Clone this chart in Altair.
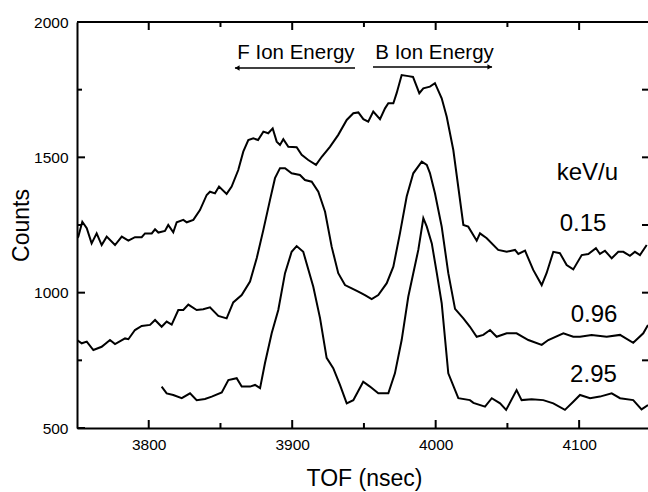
import altair as alt
import pandas as pd

# ---- data ----
tof_015 = [3750.0, 3750.9, 3753.7, 3756.8, 3760.2, 3763.7, 3767.2, 3770.7, 3776.5, 3781.2,
           3785.8, 3790.4, 3795.1, 3797.4, 3802.1, 3804.4, 3806.7, 3811.3, 3813.6, 3817.1,
           3819.5, 3824.1, 3826.5, 3831.1, 3835.7, 3840.4, 3842.7, 3846.2, 3849.0, 3854.3,
           3857.8, 3862.4, 3865.9, 3869.4, 3872.9, 3876.2, 3879.9, 3883.3, 3886.4, 3889.2,
           3891.5, 3893.8, 3897.3, 3903.1, 3906.6, 3911.2, 3916.6, 3920.6, 3926.3, 3932.1,
           3938.0, 3942.6, 3946.1, 3949.6, 3953.0, 3956.5, 3961.2, 3964.7, 3967.0, 3970.5,
           3972.8, 3976.3, 3981.0, 3984.2, 3988.6, 3991.4, 3996.0, 3999.5, 4004.2, 4007.7,
           4012.3, 4019.3, 4022.7, 4028.6, 4030.9, 4035.6, 4043.6, 4049.5, 4055.3, 4057.6,
           4062.3, 4068.0, 4073.9, 4077.3, 4082.0, 4086.6, 4091.3, 4095.9, 4101.8, 4106.4,
           4111.7, 4114.5, 4118.0, 4122.7, 4127.3, 4130.8, 4135.4, 4138.9, 4142.4, 4147.1]
cnt_015 = [1202, 1207, 1262, 1238, 1182, 1219, 1176, 1207, 1176, 1207,
           1192, 1205, 1205, 1219, 1219, 1234, 1222, 1228, 1250, 1223,
           1260, 1269, 1260, 1269, 1305, 1361, 1373, 1367, 1392, 1365,
           1392, 1453, 1521, 1564, 1570, 1564, 1595, 1589, 1607, 1558,
           1546, 1567, 1539, 1537, 1509, 1490, 1472, 1502, 1539, 1583,
           1638, 1663, 1666, 1641, 1632, 1669, 1641, 1681, 1700, 1700,
           1737, 1804, 1800, 1797, 1737, 1755, 1761, 1774, 1718, 1650,
           1527, 1250, 1244, 1192, 1219, 1201, 1158, 1151, 1158, 1143,
           1155, 1084, 1028, 1072, 1151, 1146, 1102, 1086, 1139, 1143,
           1164, 1143, 1155, 1127, 1151, 1151, 1136, 1151, 1139, 1176]

tof_096 = [3750.0, 3753.3, 3756.8, 3761.4, 3767.2, 3773.0, 3776.5, 3783.5, 3785.8, 3790.4,
           3795.1, 3800.9, 3804.4, 3809.0, 3812.5, 3816.0, 3820.6, 3824.1, 3827.6, 3833.4,
           3838.0, 3842.7, 3848.5, 3854.3, 3858.9, 3864.8, 3870.6, 3875.3, 3879.9, 3884.5,
           3888.0, 3891.5, 3895.0, 3899.6, 3905.4, 3908.9, 3913.6, 3918.2, 3922.9, 3927.5,
           3932.1, 3936.8, 3941.5, 3946.1, 3950.7, 3955.4, 3960.0, 3965.9, 3970.5, 3975.1,
           3979.8, 3984.4, 3990.3, 3993.8, 3996.0, 3999.5, 4004.2, 4008.8, 4013.5, 4019.3,
           4023.9, 4028.6, 4033.2, 4037.9, 4042.5, 4049.5, 4056.4, 4064.6, 4073.9, 4078.5,
           4089.0, 4095.9, 4100.6, 4108.7, 4119.2, 4128.5, 4137.7, 4144.7, 4148.0]
cnt_096 = [825, 813, 819, 788, 800, 825, 810, 831, 828, 862,
           877, 881, 899, 874, 893, 882, 936, 936, 956, 936,
           939, 946, 914, 905, 964, 991, 1041, 1128, 1232, 1342,
           1423, 1460, 1460, 1441, 1435, 1416, 1410, 1373, 1299, 1170,
           1072, 1028, 1016, 1004, 991, 976, 991, 1035, 1096, 1219,
           1355, 1441, 1484, 1472, 1442, 1367, 1244, 1072, 940, 905,
           874, 837, 844, 862, 837, 850, 850, 825, 807, 825,
           850, 837, 837, 844, 837, 844, 815, 850, 881]

tof_295 = [3809.0, 3812.5, 3817.1, 3823.0, 3828.8, 3833.4, 3839.2, 3843.9, 3850.9, 3855.5,
           3861.3, 3864.8, 3870.6, 3874.1, 3877.6, 3881.0, 3885.7, 3890.3, 3895.0, 3899.6,
           3903.1, 3907.7, 3914.7, 3919.4, 3924.0, 3928.6, 3933.3, 3938.0, 3942.6, 3949.5,
           3954.2, 3960.0, 3967.0, 3971.6, 3976.3, 3980.9, 3984.4, 3987.9, 3991.4, 3993.8,
           3997.3, 4000.8, 4004.2, 4008.8, 4015.8, 4023.9, 4026.3, 4034.4, 4039.1, 4044.9,
           4049.1, 4056.4, 4059.9, 4066.9, 4075.0, 4082.0, 4090.1, 4095.9, 4100.6, 4107.6,
           4114.5, 4122.7, 4128.5, 4137.7, 4143.5, 4148.0]
cnt_295 = [653, 628, 622, 610, 628, 603, 607, 616, 631, 677,
           684, 653, 653, 659, 647, 739, 850, 936, 1072, 1151,
           1172, 1151, 1022, 906, 759, 721, 659, 591, 603, 671,
           653, 628, 628, 702, 825, 985, 1072, 1158, 1275, 1244,
           1182, 1072, 961, 702, 610, 603, 593, 579, 610, 591,
           567, 640, 603, 606, 603, 591, 567, 597, 622, 610,
           616, 628, 610, 603, 569, 585]

series_labels = ["0.15", "0.96", "2.95"]
label_tof = [4102.7, 4110.4, 4110.0]
label_cnt = [1228, 892, 670]
unit_label = ["keV/u"]
unit_tof = [4105.8]
unit_cnt = [1416]

arrow_texts = ["F Ion Energy", "B Ion Energy"]
arrow_text_tof = [3902.6, 3999.2]
arrow_text_cnt = [1863, 1863]
arrow_tail = [3943.8, 3956.3]
arrow_tip = [3860.1, 4039.3]
arrow_cnt = [1830, 1834]
arrow_head_shape = ["triangle-left", "triangle-right"]

x_range = [3750, 4148]
y_range = [500, 2000]
x_major = [3800, 3900, 4000, 4100]
x_minor = [3850, 3950, 4050]
y_major = [500, 1000, 1500, 2000]
y_minor = [750, 1250, 1750]
y_right = [750, 1000, 1250, 1500, 1750]

FONT = "Liberation Sans"
W, H = 571, 406
XU = (x_range[1] - x_range[0]) / W
YU = (y_range[1] - y_range[0]) / H

# ---- tables ----
rows = []
for name, xs, ys in [("0.15", tof_015, cnt_015), ("0.96", tof_096, cnt_096), ("2.95", tof_295, cnt_295)]:
    for i, (a, b) in enumerate(zip(xs, ys)):
        rows.append({"tof": a, "counts": b, "series": name, "idx": i, "kind": "curve"})

segs = []
lo_x, hi_x = x_range
lo_y, hi_y = y_range
segs.append(((lo_x, hi_y), (hi_x, hi_y)))
for v in x_major:
    segs.append(((v, lo_y), (v, lo_y + 8 * YU)))
    segs.append(((v, hi_y), (v, hi_y - 8 * YU)))
for v in x_minor:
    segs.append(((v, lo_y), (v, lo_y + 5 * YU)))
    segs.append(((v, hi_y), (v, hi_y - 5 * YU)))
for v in y_major:
    segs.append(((lo_x, v), (lo_x + 8 * XU, v)))
for v in y_minor:
    segs.append(((lo_x, v), (lo_x + 5 * XU, v)))
for v in y_right:
    segs.append(((hi_x, v), (hi_x - 6 * XU, v)))
for s, (p, q) in enumerate(segs):
    rows.append({"tof": float(p[0]), "counts": float(p[1]), "series": "f%d" % s, "idx": 0, "kind": "frame"})
    rows.append({"tof": float(q[0]), "counts": float(q[1]), "series": "f%d" % s, "idx": 1, "kind": "frame"})
df = pd.DataFrame(rows)

lab_df = pd.DataFrame({"tof": label_tof + unit_tof, "counts": label_cnt + unit_cnt,
                       "text": series_labels + unit_label})
atext_df = pd.DataFrame({"tof": arrow_text_tof, "counts": arrow_text_cnt, "text": arrow_texts})
arrow_df = pd.DataFrame({"tail": arrow_tail, "tip": arrow_tip, "counts": arrow_cnt,
                         "shape": arrow_head_shape})
arrow_df["head"] = [t + (1.6 if s == "triangle-left" else -1.6) for t, s in zip(arrow_tip, arrow_head_shape)]

xscale = alt.Scale(domain=x_range, nice=False, zero=False)
yscale = alt.Scale(domain=y_range, nice=False, zero=False)

x_axis = alt.Axis(orient="bottom", values=x_major, format="d", ticks=False, domain=True,
                  domainColor="black", domainWidth=2, grid=False,
                  labelFont=FONT, labelFontSize=15.5, labelColor="black", labelPadding=9,
                  title="TOF (nsec)", titleFont=FONT, titleFontSize=23,
                  titleFontWeight="normal", titleColor="black",
                  titleBaseline="alphabetic", titleY=57, titleX=287)
y_axis = alt.Axis(orient="left", values=y_major, format="d", ticks=False, domain=True,
                  domainColor="black", domainWidth=2, grid=False,
                  labelFont=FONT, labelFontSize=15.5, labelColor="black", labelPadding=9,
                  title="Counts", titleFont=FONT, titleFontSize=23,
                  titleFontWeight="normal", titleColor="black",
                  titleAngle=270, titleBaseline="alphabetic", titleX=-49, titleY=203)


def X(field):
    return alt.X(field, scale=xscale, axis=x_axis)


def Y(field):
    return alt.Y(field, scale=yscale, axis=y_axis)


base = alt.Chart(df)
lines = base.transform_filter(alt.datum.kind == "curve").mark_line(
    color="black", strokeWidth=2, clip=True).encode(
    x=X("tof:Q"), y=Y("counts:Q"), detail="series:N", order="idx:Q")
frame = base.transform_filter(alt.datum.kind == "frame").mark_line(
    color="black", strokeWidth=2).encode(
    x=X("tof:Q"), y=Y("counts:Q"), detail="series:N", order="idx:Q")

labels = alt.Chart(lab_df).mark_text(font=FONT, fontSize=24, color="black", align="center",
                                     baseline="alphabetic").encode(
    x=X("tof:Q"), y=Y("counts:Q"), text="text:N")
atexts = alt.Chart(atext_df).mark_text(font=FONT, fontSize=20.5, color="black", align="center",
                                       baseline="alphabetic").encode(
    x=X("tof:Q"), y=Y("counts:Q"), text="text:N")
arrow_lines = alt.Chart(arrow_df).mark_rule(color="black", strokeWidth=1.5).encode(
    x=X("tail:Q"), x2="tip:Q", y=Y("counts:Q"))
arrow_heads = alt.Chart(arrow_df).mark_point(filled=True, color="black", opacity=1, size=28).encode(
    x=X("head:Q"), y=Y("counts:Q"),
    shape=alt.Shape("shape:N", scale=None, legend=None),
)

chart = alt.layer(
    lines, frame, labels, atexts, arrow_lines, arrow_heads,
).properties(
    width=W, height=H,
    padding={"left": 77, "top": 22, "right": 0, "bottom": 64},
    autosize=alt.AutoSizeParams(type="none"),
    background="white",
).configure_view(stroke=None).configure_axis(grid=False)

chart.save("out.html", embed_options={"renderer": "svg", "actions": False})
